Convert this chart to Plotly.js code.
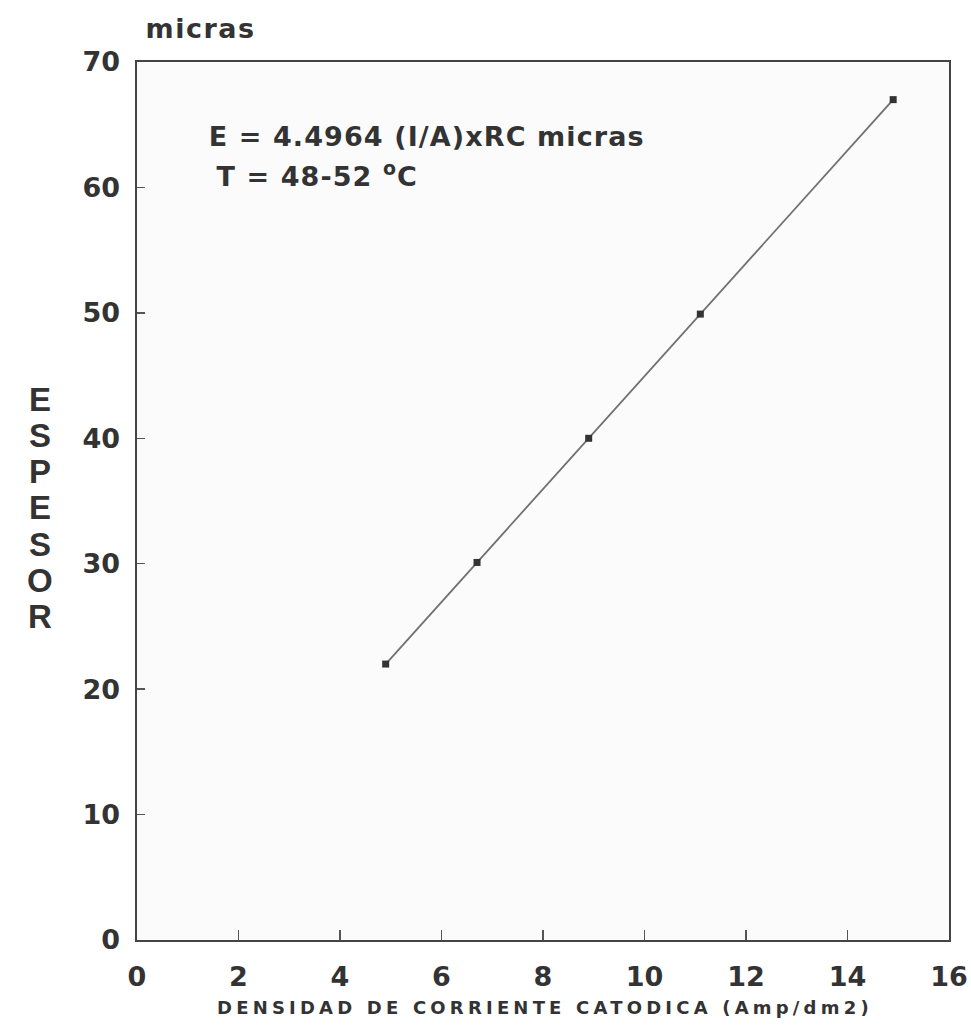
<!DOCTYPE html>
<html>
<head>
<meta charset="utf-8">
<script src="https://cdn.plot.ly/plotly-3.0.1.min.js"></script>
<style>
  html, body { margin: 0; padding: 0; background: #ffffff; }
  #chart { width: 971px; height: 1032px; }
  .annotation[data-index="0"] text { letter-spacing: 4.2px; }
  .annotation[data-index="1"] text { letter-spacing: 1.5px; }
  .annotation[data-index="2"] text { letter-spacing: 1.1px; }
  .annotation[data-index="3"] text { letter-spacing: 1.1px; }
</style>
</head>
<body>
<div id="chart"></div>
<script>
// Data
const densidad = [4.9, 6.7, 8.9, 11.1, 14.9];      // Amp/dm2
const espesor  = [22.0, 30.1, 40.0, 49.9, 67.0];   // micras
const xTicks = [0, 2, 4, 6, 8, 10, 12, 14, 16];
const yTicks = [0, 10, 20, 30, 40, 50, 60, 70];
const xTitle = 'DENSIDAD DE CORRIENTE CATODICA (Amp/dm2)';
const yTitle = 'ESPESOR';
const yUnit = 'micras';
const eqLine = 'E = 4.4964 (I/A)xRC micras';
const tLine = 'T = 48-52 <sup>o</sup>C';

const FONT = 'DejaVu Sans, sans-serif';
const INK = '#333333';

const trace = {
  x: densidad,
  y: espesor,
  mode: 'lines+markers',
  type: 'scatter',
  line: { color: '#707070', width: 1.8 },
  marker: { symbol: 'square', size: 7, color: '#333333' },
  hoverinfo: 'x+y',
  showlegend: false
};

const annotations = [
  { text: xTitle, xref: 'paper', yref: 'paper', x: 0.502, y: -0.077,
    showarrow: false, xanchor: 'center', yanchor: 'middle',
    font: { family: FONT, size: 18, color: INK, weight: 'bold' } },
  { text: yUnit, xref: 'paper', yref: 'paper', x: 0.013, y: 1.038,
    showarrow: false, xanchor: 'left', yanchor: 'middle',
    font: { family: FONT, size: 27, color: INK, weight: 'bold' } },
  { text: eqLine, xref: 'paper', yref: 'paper', x: 0.103, y: 0.915,
    showarrow: false, xanchor: 'left', yanchor: 'middle',
    font: { family: FONT, size: 27, color: INK, weight: 'bold' } },
  { text: tLine, xref: 'paper', yref: 'paper', x: 0.104, y: 0.872,
    showarrow: false, xanchor: 'left', yanchor: 'middle',
    font: { family: FONT, size: 27, color: INK, weight: 'bold' } }
];

// Vertical stacked letters for the y title
const letters = yTitle.split('');
letters.forEach((ch, i) => {
  annotations.push({
    text: ch, xref: 'paper', yref: 'paper',
    x: -0.119, y: 0.616 - i * 0.0413,
    showarrow: false, xanchor: 'center', yanchor: 'middle',
    font: { family: 'Liberation Sans, Arial, sans-serif', size: 33, color: INK, weight: 'bold' }
  });
});

const layout = {
  width: 971,
  height: 1032,
  margin: { l: 137, r: 22, t: 62, b: 92 },
  paper_bgcolor: '#ffffff',
  plot_bgcolor: '#fbfbfb',
  font: { family: FONT, color: INK },
  xaxis: {
    range: [0, 16],
    tickvals: xTicks,
    ticktext: xTicks.map(String),
    ticks: 'inside',
    ticklen: 10,
    tickwidth: 1.5,
    tickcolor: '#555',
    showgrid: false,
    zeroline: false,
    showline: true,
    linecolor: '#444',
    linewidth: 1.6,
    mirror: true,
    ticklabelstandoff: 12,
    tickfont: { family: FONT, size: 27, color: INK, weight: 'bold' }
  },
  yaxis: {
    range: [0, 70],
    tickvals: yTicks,
    ticktext: yTicks.map(String),
    ticks: 'inside',
    ticklen: 8,
    tickwidth: 1.5,
    tickcolor: '#555',
    showgrid: false,
    zeroline: false,
    showline: true,
    linecolor: '#444',
    linewidth: 1.6,
    mirror: true,
    ticklabelstandoff: 10,
    tickfont: { family: FONT, size: 27, color: INK, weight: 'bold' }
  },
  annotations: annotations
};

Plotly.newPlot('chart', [trace], layout, { displayModeBar: false, staticPlot: true });
</script>
</body>
</html>
